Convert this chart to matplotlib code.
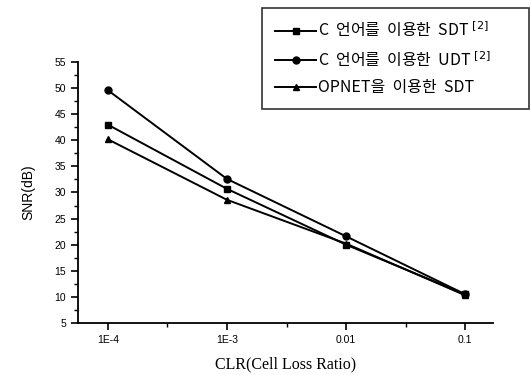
import numpy as np
import matplotlib.pyplot as plt
from matplotlib.ticker import FixedLocator, MultipleLocator

plt.rcParams['font.family'] = ['Noto Sans CJK KR', 'DejaVu Sans']

clr = [1e-4, 1e-3, 1e-2, 1e-1]
clr_labels = ['1E-4', '1E-3', '0.01', '0.1']
sdt_c = [43.0, 30.7, 20.0, 10.5]
udt_c = [49.6, 32.6, 21.6, 10.5]
sdt_opnet = [40.2, 28.6, 20.2, 10.3]
labels = ['C  언어를  이용한  SDT $^{[2]}$',
          'C  언어를  이용한  UDT $^{[2]}$',
          'OPNET을  이용한  SDT']

fig = plt.figure(figsize=(5.31, 3.75), dpi=100)
ax = fig.add_axes([78/531, 1 - 323/375, (493-78)/531, (323-62)/375])

kw = dict(color='black', lw=1.4, ms=5)
l1, = ax.plot(clr, sdt_c, marker='s', **kw)
l2, = ax.plot(clr, udt_c, marker='o', **kw)
l3, = ax.plot(clr, sdt_opnet, marker='^', **kw)

ax.set_xscale('log')
ax.set_xlim(10**-4.25, 10**-0.767)
ax.set_ylim(5, 55)
ax.xaxis.set_major_locator(FixedLocator(clr))
ax.xaxis.set_minor_locator(FixedLocator([10**-3.5, 10**-2.5, 10**-1.5]))
ax.set_xticklabels(clr_labels)
ax.yaxis.set_major_locator(MultipleLocator(5))
ax.yaxis.set_minor_locator(MultipleLocator(2.5))

for s in ['top', 'right']:
    ax.spines[s].set_visible(False)
for s in ['left', 'bottom']:
    ax.spines[s].set_linewidth(1.3)
ax.tick_params(which='major', length=5, width=1.2, labelsize=7.5)
ax.tick_params(which='minor', length=3, width=1.0)
for t in ax.get_xticklabels() + ax.get_yticklabels():
    t.set_fontfamily('Liberation Sans')

ax.set_xlabel('CLR(Cell Loss Ratio)', family='Liberation Serif', fontsize=11.5, labelpad=8)
ax.set_ylabel('SNR(dB)', family='Liberation Sans', fontsize=10, labelpad=14)

leg = fig.legend([l1, l2, l3], labels, loc='upper left', mode='expand',
                 bbox_to_anchor=(262/531, 1 - 108/375, (529-262)/531, 100/375),
                 fancybox=False, edgecolor='black', fontsize=11.5,
                 handlelength=2.6, borderpad=0.8, labelspacing=0.6,
                 handletextpad=0.1, borderaxespad=0)
leg.get_frame().set_linewidth(1.2)

fig.savefig('out.png', dpi=100)
